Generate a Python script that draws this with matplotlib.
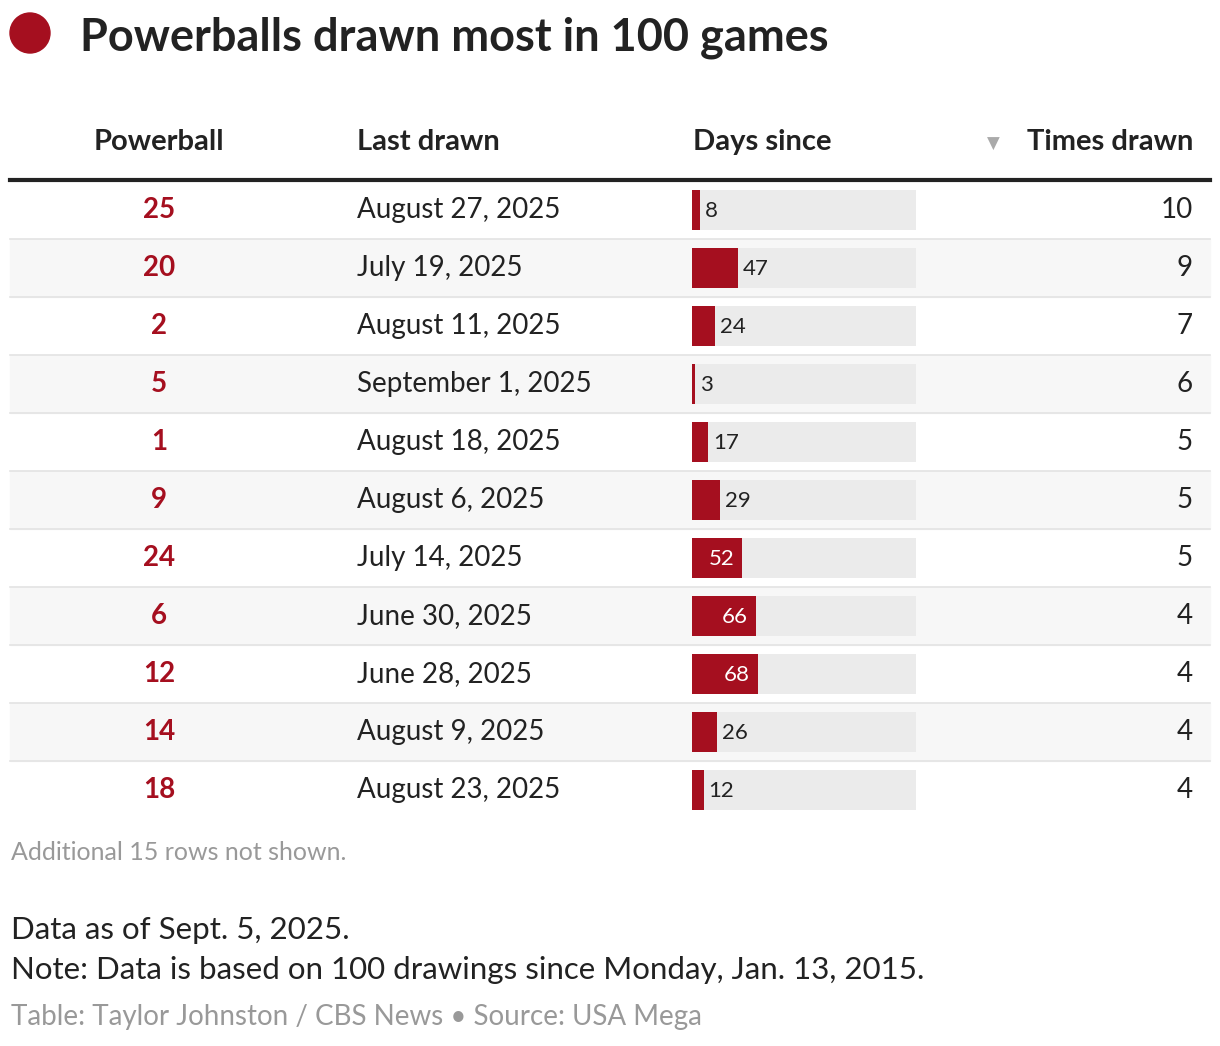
import matplotlib
matplotlib.use("Agg")
import matplotlib.pyplot as plt
from matplotlib.patches import Circle

powerball = ["25", "20", "2", "5", "1", "9", "24", "6", "12", "14", "18"]
last_drawn = ["August 27, 2025", "July 19, 2025", "August 11, 2025", "September 1, 2025",
              "August 18, 2025", "August 6, 2025", "July 14, 2025", "June 30, 2025",
              "June 28, 2025", "August 9, 2025", "August 23, 2025"]
days_since = [8, 47, 24, 3, 17, 29, 52, 66, 68, 26, 12]
times_drawn = [10, 9, 7, 6, 5, 5, 5, 4, 4, 4, 4]
headers = ["Powerball", "Last drawn", "Days since", "Times drawn"]
track_max = 231

RED = "#a50f1f"
W, H = 1220, 1046
fig = plt.figure(figsize=(W / 100, H / 100), dpi=100)
ax = fig.add_axes([0, 0, 1, 1])
ax.set_xlim(0, W)
ax.set_ylim(H, 0)
ax.axis("off")
plt.rcParams["font.family"] = ["Lato", "DejaVu Sans"]

ax.add_patch(Circle((30, 33), 20, color=RED))
ax.text(80, 38, "Powerballs drawn most in 100 games", fontsize=32.5, fontweight="bold",
        color="#222222", va="center")

hy = 142
hs = 21
ax.text(159, hy, headers[0], fontsize=hs, fontweight="bold", ha="center", va="center", color="#222")
ax.text(357, hy, headers[1], fontsize=hs, fontweight="bold", ha="left", va="center", color="#222")
ax.text(693, hy, headers[2], fontsize=hs, fontweight="bold", ha="left", va="center", color="#222")
ax.text(1193, hy, headers[3], fontsize=hs, fontweight="bold", ha="right", va="center", color="#222")
ax.text(993, hy + 2, "▼", fontsize=12, ha="center", va="center", color="#aaaaaa",
        family=["DejaVu Sans"])

top = 181
rh = 58
scale = 224 / track_max
x0 = 692
n = len(powerball)
for i in range(n):
    y0 = top + i * rh
    yc = y0 + rh / 2
    if i % 2 == 1:
        ax.axhspan(y0, y0 + rh, xmin=10 / W, xmax=1210 / W, color="#f7f7f7", zorder=0)
    if i < n - 1:
        ax.plot([10, 1210], [y0 + rh, y0 + rh], color="#e3e3e3", lw=1.2, zorder=1)
    ax.text(159, yc, powerball[i], fontsize=20, fontweight="bold", color=RED, ha="center", va="center")
    ax.text(357, yc, last_drawn[i], fontsize=20, color="#222", ha="left", va="center")
    ax.barh(yc, track_max * scale, left=x0, height=40, color="#ebebeb", zorder=2)
    w = days_since[i] * scale
    ax.barh(yc, w, left=x0, height=40, color=RED, zorder=3)
    if days_since[i] >= 50:
        ax.text(x0 + w - 8, yc + 1, str(days_since[i]), fontsize=16, color="white",
                ha="right", va="center", zorder=4)
    else:
        ax.text(x0 + w + 5, yc + 1, str(days_since[i]), fontsize=16, color="#222",
                ha="left", va="center", zorder=4)
    ax.text(1193, yc, str(times_drawn[i]), fontsize=20, color="#222", ha="right", va="center")

ax.plot([10, 1210], [180, 180], color="#222", lw=3, zorder=5)

ax.text(11, 853, "Additional 15 rows not shown.", fontsize=18, color="#999999", va="center")
ax.text(11, 930, "Data as of Sept. 5, 2025.", fontsize=22.5, color="#222", va="center")
ax.text(11, 970, "Note: Data is based on 100 drawings since Monday, Jan. 13, 2015.", fontsize=22.5,
        color="#222", va="center")
ax.text(11, 1017, "Table: Taylor Johnston / CBS News • Source: USA Mega", fontsize=20,
        color="#999999", va="center")

fig.savefig("out.png", dpi=100, facecolor="white")
